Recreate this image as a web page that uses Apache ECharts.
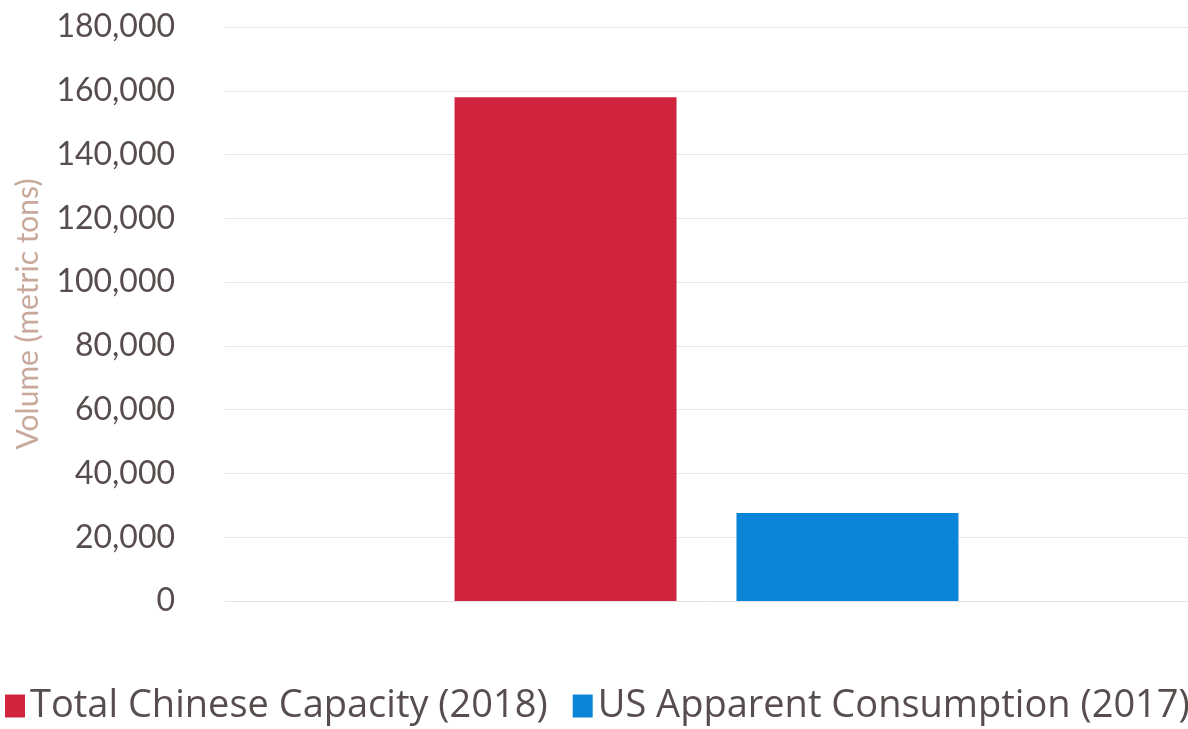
<!DOCTYPE html>
<html>
<head>
<meta charset="utf-8">
<script src="https://cdn.jsdelivr.net/npm/echarts@6/dist/echarts.min.js"></script>
<style>
  html, body { margin: 0; padding: 0; background: #fff; }
  #chart { width: 1188px; height: 729px; }
</style>
</head>
<body>
<div id="chart"></div>
<script>
var categories = ['Volume'];
var seriesNames = ['Total Chinese Capacity (2018)', 'US Apparent Consumption (2017)'];
var chineseCapacity = [158000];
var usConsumption = [27600];

var option = {
  animation: false,
  grid: {
    left: 225,
    right: -21,
    top: 27,
    bottom: 128
  },
  legend: {
    bottom: 4,
    left: 5,
    width: 1500,
    padding: 0,
    itemWidth: 20,
    itemHeight: 23,
    itemGap: 25,
    icon: 'rect',
    textStyle: {
      fontFamily: 'Open Sans',
      fontSize: 38,
      color: '#574d4d'
    },
    data: seriesNames
  },
  xAxis: {
    type: 'category',
    data: categories,
    axisLine: { show: true, lineStyle: { color: '#e4e4e4' } },
    axisTick: { show: false },
    axisLabel: { show: false }
  },
  yAxis: {
    type: 'value',
    min: 0,
    max: 180000,
    interval: 20000,
    name: 'Volume (metric tons)',
    nameLocation: 'middle',
    nameGap: 182,
    nameTextStyle: {
      fontFamily: 'Lato',
      fontSize: 30,
      color: '#c8a99c'
    },
    axisLine: { show: false },
    axisTick: { show: false },
    axisLabel: {
      fontFamily: 'Lato',
      fontSize: 32,
      color: '#574d4d',
      margin: 50,
      formatter: function (v) { return v.toLocaleString('en-US'); }
    },
    splitLine: { lineStyle: { color: '#e6e6e6' } }
  },
  series: [
    {
      name: seriesNames[0],
      type: 'bar',
      data: chineseCapacity,
      barWidth: 222,
      barGap: '27%',
      itemStyle: { color: '#d0243f' }
    },
    {
      name: seriesNames[1],
      type: 'bar',
      data: usConsumption,
      barWidth: 222,
      itemStyle: { color: '#0a85d8' }
    }
  ]
};

var chart = echarts.init(document.getElementById('chart'));
chart.setOption(option);
</script>
</body>
</html>
